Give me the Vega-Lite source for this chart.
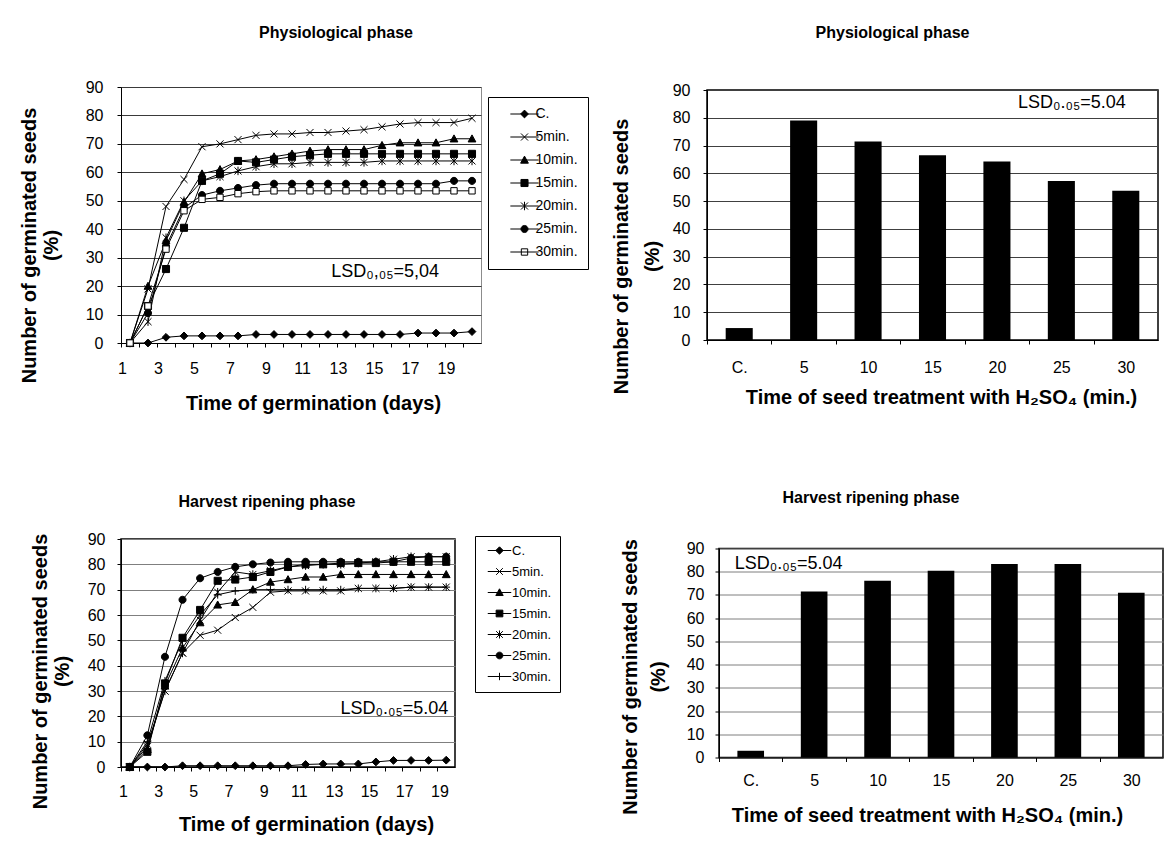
{
  "$schema": "https://vega.github.io/schema/vega-lite/v6.json",
  "background": "white",
  "padding": {"left": 18, "top": 24, "right": 0, "bottom": 0},
  "spacing": 75,
  "resolve": {"scale": {"shape": "independent", "fill": "independent"}, "legend": {"shape": "independent", "fill": "independent"}},
  "config": {
    "font": "Liberation Sans",
    "view": {"stroke": null},
    "axis": {"labelFont": "Liberation Sans", "titleFont": "Liberation Sans", "labelColor": "black", "titleColor": "black", "labelFontSize": 16, "titleFontSize": 20, "titleFontWeight": "bold", "domainColor": "black", "tickColor": "black", "tickSize": 4, "gridWidth": 1, "titleLineHeight": 22, "labelOverlap": false},
    "axisX": {"grid": false, "labelAngle": 0},
    "title": {"font": "Liberation Sans", "color": "black", "fontSize": 16, "fontWeight": "bold"},
    "legend": {"labelFont": "Liberation Sans", "labelColor": "black", "symbolStrokeColor": "black", "symbolStrokeWidth": 1}
  },
  "datasets": {
    "phys": [
      {"d":1,"s":"C.","v":0},{"d":2,"s":"C.","v":0},{"d":3,"s":"C.","v":2},{"d":4,"s":"C.","v":2.5},{"d":5,"s":"C.","v":2.5},{"d":6,"s":"C.","v":2.5},{"d":7,"s":"C.","v":2.5},{"d":8,"s":"C.","v":3},{"d":9,"s":"C.","v":3},{"d":10,"s":"C.","v":3},{"d":11,"s":"C.","v":3},{"d":12,"s":"C.","v":3},{"d":13,"s":"C.","v":3},{"d":14,"s":"C.","v":3},{"d":15,"s":"C.","v":3},{"d":16,"s":"C.","v":3},{"d":17,"s":"C.","v":3.5},{"d":18,"s":"C.","v":3.5},{"d":19,"s":"C.","v":3.5},{"d":20,"s":"C.","v":4},
      {"d":1,"s":"5min.","v":0},{"d":2,"s":"5min.","v":19},{"d":3,"s":"5min.","v":48},{"d":4,"s":"5min.","v":57.5},{"d":5,"s":"5min.","v":69},{"d":6,"s":"5min.","v":70},{"d":7,"s":"5min.","v":71.5},{"d":8,"s":"5min.","v":73},{"d":9,"s":"5min.","v":73.5},{"d":10,"s":"5min.","v":73.5},{"d":11,"s":"5min.","v":74},{"d":12,"s":"5min.","v":74},{"d":13,"s":"5min.","v":74.5},{"d":14,"s":"5min.","v":75},{"d":15,"s":"5min.","v":76},{"d":16,"s":"5min.","v":77},{"d":17,"s":"5min.","v":77.5},{"d":18,"s":"5min.","v":77.5},{"d":19,"s":"5min.","v":77.5},{"d":20,"s":"5min.","v":79},
      {"d":1,"s":"10min.","v":0},{"d":2,"s":"10min.","v":20},{"d":3,"s":"10min.","v":36},{"d":4,"s":"10min.","v":49.5},{"d":5,"s":"10min.","v":59.5},{"d":6,"s":"10min.","v":61},{"d":7,"s":"10min.","v":64},{"d":8,"s":"10min.","v":64.5},{"d":9,"s":"10min.","v":65.5},{"d":10,"s":"10min.","v":66.5},{"d":11,"s":"10min.","v":67.5},{"d":12,"s":"10min.","v":68},{"d":13,"s":"10min.","v":68},{"d":14,"s":"10min.","v":68},{"d":15,"s":"10min.","v":69.5},{"d":16,"s":"10min.","v":70.4},{"d":17,"s":"10min.","v":70.4},{"d":18,"s":"10min.","v":70.4},{"d":19,"s":"10min.","v":71.8},{"d":20,"s":"10min.","v":71.8},
      {"d":1,"s":"15min.","v":0},{"d":2,"s":"15min.","v":13},{"d":3,"s":"15min.","v":26},{"d":4,"s":"15min.","v":40.5},{"d":5,"s":"15min.","v":57},{"d":6,"s":"15min.","v":59.5},{"d":7,"s":"15min.","v":64},{"d":8,"s":"15min.","v":63.5},{"d":9,"s":"15min.","v":64.5},{"d":10,"s":"15min.","v":65.5},{"d":11,"s":"15min.","v":66},{"d":12,"s":"15min.","v":66.5},{"d":13,"s":"15min.","v":66.5},{"d":14,"s":"15min.","v":66.5},{"d":15,"s":"15min.","v":66.5},{"d":16,"s":"15min.","v":66.5},{"d":17,"s":"15min.","v":66.5},{"d":18,"s":"15min.","v":66.5},{"d":19,"s":"15min.","v":66.5},{"d":20,"s":"15min.","v":66.5},
      {"d":1,"s":"20min.","v":0},{"d":2,"s":"20min.","v":7.5},{"d":3,"s":"20min.","v":37},{"d":4,"s":"20min.","v":50},{"d":5,"s":"20min.","v":57},{"d":6,"s":"20min.","v":58.5},{"d":7,"s":"20min.","v":60.5},{"d":8,"s":"20min.","v":62},{"d":9,"s":"20min.","v":63},{"d":10,"s":"20min.","v":63},{"d":11,"s":"20min.","v":63.5},{"d":12,"s":"20min.","v":63.5},{"d":13,"s":"20min.","v":63.5},{"d":14,"s":"20min.","v":63.5},{"d":15,"s":"20min.","v":64},{"d":16,"s":"20min.","v":64},{"d":17,"s":"20min.","v":64},{"d":18,"s":"20min.","v":64},{"d":19,"s":"20min.","v":64},{"d":20,"s":"20min.","v":64},
      {"d":1,"s":"25min.","v":0},{"d":2,"s":"25min.","v":10.5},{"d":3,"s":"25min.","v":34},{"d":4,"s":"25min.","v":47.5},{"d":5,"s":"25min.","v":52},{"d":6,"s":"25min.","v":53.5},{"d":7,"s":"25min.","v":54.5},{"d":8,"s":"25min.","v":55.5},{"d":9,"s":"25min.","v":56},{"d":10,"s":"25min.","v":56},{"d":11,"s":"25min.","v":56},{"d":12,"s":"25min.","v":56},{"d":13,"s":"25min.","v":56},{"d":14,"s":"25min.","v":56},{"d":15,"s":"25min.","v":56},{"d":16,"s":"25min.","v":56},{"d":17,"s":"25min.","v":56},{"d":18,"s":"25min.","v":56},{"d":19,"s":"25min.","v":57},{"d":20,"s":"25min.","v":57},
      {"d":1,"s":"30min.","v":0},{"d":2,"s":"30min.","v":13},{"d":3,"s":"30min.","v":33},{"d":4,"s":"30min.","v":46.5},{"d":5,"s":"30min.","v":50.5},{"d":6,"s":"30min.","v":51.2},{"d":7,"s":"30min.","v":52.5},{"d":8,"s":"30min.","v":53.2},{"d":9,"s":"30min.","v":53.5},{"d":10,"s":"30min.","v":53.5},{"d":11,"s":"30min.","v":53.5},{"d":12,"s":"30min.","v":53.5},{"d":13,"s":"30min.","v":53.5},{"d":14,"s":"30min.","v":53.5},{"d":15,"s":"30min.","v":53.5},{"d":16,"s":"30min.","v":53.5},{"d":17,"s":"30min.","v":53.5},{"d":18,"s":"30min.","v":53.5},{"d":19,"s":"30min.","v":53.5},{"d":20,"s":"30min.","v":53.5}
    ],
    "harv": [
      {"d":1,"s":"C.","v":0},{"d":2,"s":"C.","v":0},{"d":3,"s":"C.","v":0},{"d":4,"s":"C.","v":0.5},{"d":5,"s":"C.","v":0.5},{"d":6,"s":"C.","v":0.5},{"d":7,"s":"C.","v":0.5},{"d":8,"s":"C.","v":0.5},{"d":9,"s":"C.","v":0.5},{"d":10,"s":"C.","v":0.5},{"d":11,"s":"C.","v":1},{"d":12,"s":"C.","v":1.2},{"d":13,"s":"C.","v":1.2},{"d":14,"s":"C.","v":1.2},{"d":15,"s":"C.","v":2},{"d":16,"s":"C.","v":2.6},{"d":17,"s":"C.","v":2.6},{"d":18,"s":"C.","v":2.6},{"d":19,"s":"C.","v":2.7},
      {"d":1,"s":"5min.","v":0},{"d":2,"s":"5min.","v":8},{"d":3,"s":"5min.","v":30},{"d":4,"s":"5min.","v":45},{"d":5,"s":"5min.","v":52},{"d":6,"s":"5min.","v":54},{"d":7,"s":"5min.","v":59},{"d":8,"s":"5min.","v":63},{"d":9,"s":"5min.","v":69},{"d":10,"s":"5min.","v":69.5},{"d":11,"s":"5min.","v":69.5},{"d":12,"s":"5min.","v":69.5},{"d":13,"s":"5min.","v":69.5},{"d":14,"s":"5min.","v":70.5},{"d":15,"s":"5min.","v":70.5},{"d":16,"s":"5min.","v":70.5},{"d":17,"s":"5min.","v":71},{"d":18,"s":"5min.","v":71},{"d":19,"s":"5min.","v":71},
      {"d":1,"s":"10min.","v":0},{"d":2,"s":"10min.","v":7},{"d":3,"s":"10min.","v":32},{"d":4,"s":"10min.","v":47},{"d":5,"s":"10min.","v":57},{"d":6,"s":"10min.","v":64},{"d":7,"s":"10min.","v":65},{"d":8,"s":"10min.","v":70},{"d":9,"s":"10min.","v":73},{"d":10,"s":"10min.","v":74},{"d":11,"s":"10min.","v":75},{"d":12,"s":"10min.","v":75},{"d":13,"s":"10min.","v":76},{"d":14,"s":"10min.","v":76},{"d":15,"s":"10min.","v":76},{"d":16,"s":"10min.","v":76},{"d":17,"s":"10min.","v":76},{"d":18,"s":"10min.","v":76},{"d":19,"s":"10min.","v":76},
      {"d":1,"s":"15min.","v":0},{"d":2,"s":"15min.","v":6},{"d":3,"s":"15min.","v":33},{"d":4,"s":"15min.","v":51},{"d":5,"s":"15min.","v":62},{"d":6,"s":"15min.","v":73.5},{"d":7,"s":"15min.","v":74},{"d":8,"s":"15min.","v":75},{"d":9,"s":"15min.","v":77},{"d":10,"s":"15min.","v":79},{"d":11,"s":"15min.","v":80},{"d":12,"s":"15min.","v":80},{"d":13,"s":"15min.","v":80.5},{"d":14,"s":"15min.","v":80.5},{"d":15,"s":"15min.","v":80.5},{"d":16,"s":"15min.","v":81},{"d":17,"s":"15min.","v":81},{"d":18,"s":"15min.","v":81},{"d":19,"s":"15min.","v":81},
      {"d":1,"s":"20min.","v":0},{"d":2,"s":"20min.","v":9},{"d":3,"s":"20min.","v":30},{"d":4,"s":"20min.","v":45},{"d":5,"s":"20min.","v":58},{"d":6,"s":"20min.","v":69},{"d":7,"s":"20min.","v":77},{"d":8,"s":"20min.","v":76},{"d":9,"s":"20min.","v":77.5},{"d":10,"s":"20min.","v":79},{"d":11,"s":"20min.","v":79.5},{"d":12,"s":"20min.","v":80},{"d":13,"s":"20min.","v":80},{"d":14,"s":"20min.","v":80.5},{"d":15,"s":"20min.","v":81},{"d":16,"s":"20min.","v":82},{"d":17,"s":"20min.","v":83},{"d":18,"s":"20min.","v":83},{"d":19,"s":"20min.","v":83},
      {"d":1,"s":"25min.","v":0},{"d":2,"s":"25min.","v":12.5},{"d":3,"s":"25min.","v":43.5},{"d":4,"s":"25min.","v":66},{"d":5,"s":"25min.","v":74.5},{"d":6,"s":"25min.","v":77},{"d":7,"s":"25min.","v":79},{"d":8,"s":"25min.","v":80},{"d":9,"s":"25min.","v":80.7},{"d":10,"s":"25min.","v":81},{"d":11,"s":"25min.","v":81},{"d":12,"s":"25min.","v":81},{"d":13,"s":"25min.","v":81},{"d":14,"s":"25min.","v":81},{"d":15,"s":"25min.","v":81},{"d":16,"s":"25min.","v":81},{"d":17,"s":"25min.","v":82.5},{"d":18,"s":"25min.","v":83},{"d":19,"s":"25min.","v":83},
      {"d":1,"s":"30min.","v":0},{"d":2,"s":"30min.","v":10},{"d":3,"s":"30min.","v":34},{"d":4,"s":"30min.","v":50},{"d":5,"s":"30min.","v":60},{"d":6,"s":"30min.","v":68},{"d":7,"s":"30min.","v":69.5},{"d":8,"s":"30min.","v":70},{"d":9,"s":"30min.","v":70},{"d":10,"s":"30min.","v":70},{"d":11,"s":"30min.","v":70},{"d":12,"s":"30min.","v":70},{"d":13,"s":"30min.","v":70},{"d":14,"s":"30min.","v":70.5},{"d":15,"s":"30min.","v":70.5},{"d":16,"s":"30min.","v":70.5},{"d":17,"s":"30min.","v":71},{"d":18,"s":"30min.","v":71},{"d":19,"s":"30min.","v":71}
    ],
    "physBar": [
      {"t":"C.","v":4.3},{"t":"5","v":79},{"t":"10","v":71.5},{"t":"15","v":66.5},{"t":"20","v":64.3},{"t":"25","v":57.2},{"t":"30","v":53.7}
    ],
    "harvBar": [
      {"t":"C.","v":2.9},{"t":"5","v":71.5},{"t":"10","v":76.1},{"t":"15","v":80.4},{"t":"20","v":83.3},{"t":"25","v":83.3},{"t":"30","v":70.9}
    ]
  },
  "vconcat": [
    {
      "bounds": "flush",
      "center": true,
      "spacing": 226,
      "resolve": {"scale": {"shape": "independent", "fill": "independent"}, "legend": {"shape": "independent", "fill": "independent"}},
      "hconcat": [
        {
          "width": 360,
          "height": 256,
          "title": {"text": "Physiological phase", "offset": 38, "dx": 35},
          "data": {"name": "phys"},
          "view": {"stroke": "#8c8c8c", "strokeWidth": 1},
          "layer": [
            {
              "mark": {"type": "line", "color": "black", "strokeWidth": 1},
              "encoding": {
                "x": {"field": "d", "type": "ordinal", "scale": {"type": "point", "padding": 0.5}, "title": "Time of  germination (days)",
                  "axis": {"labelExpr": "datum.value % 2 == 1 ? datum.label : ''", "tickOffset": -9, "labelOffset": 1, "labelPadding": 13, "titlePadding": 17, "titleX": 192}},
                "y": {"field": "v", "type": "quantitative", "scale": {"domain": [0, 90], "nice": false}, "title": ["Number of germinated seeds", "(%)"],
                  "axis": {"values": [0,10,20,30,40,50,60,70,80,90], "grid": true, "gridColor": "#3a3a3a", "labelPadding": 14, "titlePadding": 24, "titleY": 158}},
                "detail": {"field": "s"}
              }
            },
            {
              "mark": {"type": "point", "filled": true, "size": 50, "stroke": "black", "strokeWidth": 1, "opacity": 1},
              "encoding": {
                "x": {"field": "d", "type": "ordinal", "scale": {"type": "point", "padding": 0.5}, "title": "Time of  germination (days)",
                  "axis": {"labelExpr": "datum.value % 2 == 1 ? datum.label : ''", "tickOffset": -9, "labelOffset": 1, "labelPadding": 13, "titlePadding": 17, "titleX": 192}},
                "y": {"field": "v", "type": "quantitative", "scale": {"domain": [0, 90], "nice": false}, "title": ["Number of germinated seeds", "(%)"],
                  "axis": {"values": [0,10,20,30,40,50,60,70,80,90], "grid": true, "gridColor": "#3a3a3a", "labelPadding": 14, "titlePadding": 24, "titleY": 158}},
                "shape": {"field": "s", "type": "nominal",
                  "scale": {"domain": ["C.","5min.","10min.","15min.","20min.","25min.","30min.","-"],
                    "range": ["M0,-1.1L1.1,0L0,1.1L-1.1,0Z", "M-1,-1L1,1M-1,1L1,-1", "M0,-1.1L1.1,0.9L-1.1,0.9Z", "M-1,-1L1,-1L1,1L-1,1Z", "M-1,-1L1,1M-1,1L1,-1M0,-1.2L0,1.2", "M-1,0A1,1,0,1,1,1,0A1,1,0,1,1,-1,0Z", "M-0.9,-0.9L0.9,-0.9L0.9,0.9L-0.9,0.9Z", "M-1,0L1,0"]},
                  "legend": null},
                "fill": {"field": "s", "type": "nominal",
                  "scale": {"domain": ["C.","5min.","10min.","15min.","20min.","25min.","30min."], "range": ["black","black","black","black","black","black","white"]},
                  "legend": {"orient": "none", "legendX": 367, "legendY": 10, "title": null, "padding": 10, "strokeColor": "black", "fillColor": "white", "labelFontSize": 14, "rowPadding": 9, "symbolSize": 50, "symbolStrokeWidth": 1, "symbolStrokeColor": "black", "symbolOffset": 19.5, "labelOffset": 4,
                    "symbolType": {"expr": "datum.value === 'C.' ? 'M-4,0L4,0M0,-1.1L1.1,0L0,1.1L-1.1,0Z' : datum.value === '5min.' ? 'M-4,0L4,0M-1,-1L1,1M-1,1L1,-1' : datum.value === '10min.' ? 'M-4,0L4,0M0,-1.1L1.1,0.9L-1.1,0.9Z' : datum.value === '15min.' ? 'M-4,0L4,0M-1,-1L1,-1L1,1L-1,1Z' : datum.value === '20min.' ? 'M-4,0L4,0M-1,-1L1,1M-1,1L1,-1M0,-1.2L0,1.2' : datum.value === '25min.' ? 'M-4,0L4,0M-1,0A1,1,0,1,1,1,0A1,1,0,1,1,-1,0Z' : 'M-4,0L4,0M-0.9,-0.9L0.9,-0.9L0.9,0.9L-0.9,0.9Z'"}}}
              }
            },
            {
              "data": {"values": [{"label": "LSD₀,₀₅=5,04"}]},
              "mark": {"type": "text", "fontSize": 18, "align": "right", "baseline": "middle", "dx": -15, "color": "black"},
              "encoding": {
                "x": {"datum": 19, "type": "ordinal", "scale": {"type": "point", "padding": 0.5}, "title": "Time of  germination (days)",
                  "axis": {"labelExpr": "datum.value % 2 == 1 ? datum.label : ''", "tickOffset": -9, "labelOffset": 1, "labelPadding": 13, "titlePadding": 17, "titleX": 192}},
                "y": {"datum": 25, "type": "quantitative", "scale": {"domain": [0, 90], "nice": false}, "title": ["Number of germinated seeds", "(%)"],
                  "axis": {"values": [0,10,20,30,40,50,60,70,80,90], "grid": true, "gridColor": "#3a3a3a", "labelPadding": 14, "titlePadding": 24, "titleY": 158}},
                "text": {"field": "label"}
              }
            }
          ]
        },
        {
          "width": 451,
          "height": 250,
          "title": {"text": "Physiological phase", "offset": 41, "dx": -40},
          "data": {"name": "physBar"},
          "view": {"stroke": "black", "strokeWidth": 1.5},
          "layer": [
            {
              "mark": {"type": "bar", "color": "black"},
              "encoding": {
                "x": {"field": "t", "type": "ordinal", "sort": null, "scale": {"paddingInner": 0.58, "paddingOuter": 0.29}, "title": "Time of seed treatment with H₂SO₄ (min.)",
                  "axis": {"tickOffset": -32.2, "labelOffset": 32.2, "labelPadding": 15, "titlePadding": 12, "titleX": 234}},
                "y": {"field": "v", "type": "quantitative", "scale": {"domain": [0, 90], "nice": false}, "title": ["Number of  germinated  seeds", "(%)"],
                  "axis": {"values": [0,10,20,30,40,50,60,70,80,90], "grid": true, "gridColor": "#404040", "labelPadding": 13, "titlePadding": 10, "titleY": 166, "titleLineHeight": 31}}
              }
            },
            {
              "data": {"values": [{"label": "LSD₀.₀₅=5.04"}]},
              "mark": {"type": "text", "fontSize": 18, "align": "right", "baseline": "middle", "dx": 0, "color": "black"},
              "encoding": {
                "x": {"datum": "30", "type": "ordinal", "sort": null, "scale": {"paddingInner": 0.58, "paddingOuter": 0.29}, "title": "Time of seed treatment with H₂SO₄ (min.)",
                  "axis": {"tickOffset": -32.2, "labelOffset": 32.2, "labelPadding": 15, "titlePadding": 12, "titleX": 234}},
                "y": {"datum": 85.5, "type": "quantitative", "scale": {"domain": [0, 90], "nice": false}, "title": ["Number of  germinated  seeds", "(%)"],
                  "axis": {"values": [0,10,20,30,40,50,60,70,80,90], "grid": true, "gridColor": "#404040", "labelPadding": 13, "titlePadding": 10, "titleY": 166, "titleLineHeight": 31}},
                "text": {"field": "label"}
              }
            }
          ]
        }
      ]
    },
    {
      "bounds": "flush",
      "center": true,
      "spacing": 264,
      "resolve": {"scale": {"shape": "independent", "fill": "independent"}, "legend": {"shape": "independent", "fill": "independent"}},
      "hconcat": [
        {
          "width": 334,
          "height": 228,
          "title": {"text": "Harvest ripening phase", "offset": 21, "dx": -21},
          "data": {"name": "harv"},
          "view": {"stroke": "black", "strokeWidth": 1.5},
          "layer": [
            {
              "mark": {"type": "line", "color": "black", "strokeWidth": 1},
              "encoding": {
                "x": {"field": "d", "type": "ordinal", "scale": {"type": "point", "padding": 0.5}, "title": "Time of  germination (days)",
                  "axis": {"labelExpr": "datum.value % 2 == 1 ? datum.label : ''", "tickOffset": -8.8, "labelOffset": 2, "labelPadding": 12, "titlePadding": 15, "titleX": 185}},
                "y": {"field": "v", "type": "quantitative", "scale": {"domain": [0, 90], "nice": false}, "title": ["Number of germinated seeds", "(%)"],
                  "axis": {"values": [0,10,20,30,40,50,60,70,80,90], "grid": true, "gridColor": "#7f7f7f", "labelPadding": 12, "titlePadding": 15, "titleY": 132}},
                "detail": {"field": "s"}
              }
            },
            {
              "mark": {"type": "point", "filled": true, "size": 50, "stroke": "black", "strokeWidth": 1, "opacity": 1},
              "encoding": {
                "x": {"field": "d", "type": "ordinal", "scale": {"type": "point", "padding": 0.5}, "title": "Time of  germination (days)",
                  "axis": {"labelExpr": "datum.value % 2 == 1 ? datum.label : ''", "tickOffset": -8.8, "labelOffset": 2, "labelPadding": 12, "titlePadding": 15, "titleX": 185}},
                "y": {"field": "v", "type": "quantitative", "scale": {"domain": [0, 90], "nice": false}, "title": ["Number of germinated seeds", "(%)"],
                  "axis": {"values": [0,10,20,30,40,50,60,70,80,90], "grid": true, "gridColor": "#7f7f7f", "labelPadding": 12, "titlePadding": 15, "titleY": 132}},
                "shape": {"field": "s", "type": "nominal",
                  "scale": {"domain": ["C.","5min.","10min.","15min.","20min.","25min.","30min.","-"],
                    "range": ["M0,-1.1L1.1,0L0,1.1L-1.1,0Z", "M-1,-1L1,1M-1,1L1,-1", "M0,-1.1L1.1,0.9L-1.1,0.9Z", "M-1,-1L1,-1L1,1L-1,1Z", "M-1,-1L1,1M-1,1L1,-1M0,-1.2L0,1.2", "M-1,0A1,1,0,1,1,1,0A1,1,0,1,1,-1,0Z", "M-1.1,0L1.1,0M0,-1.1L0,1.1", "M-1,0L1,0"]},
                  "legend": null},
                "fill": {"field": "s", "type": "nominal",
                  "scale": {"domain": ["C.","5min.","10min.","15min.","20min.","25min.","30min."], "range": ["black","black","black","black","black","black","black"]},
                  "legend": {"orient": "none", "legendX": 354, "legendY": -3, "title": null, "padding": 8, "strokeColor": "black", "fillColor": "white", "labelFontSize": 13, "rowPadding": 7, "symbolSize": 45, "symbolStrokeWidth": 1, "symbolStrokeColor": "black", "symbolOffset": 10, "labelOffset": 6,
                    "symbolType": {"expr": "datum.value === 'C.' ? 'M-3.5,0L3.5,0M0,-1.1L1.1,0L0,1.1L-1.1,0Z' : datum.value === '5min.' ? 'M-3.5,0L3.5,0M-1,-1L1,1M-1,1L1,-1' : datum.value === '10min.' ? 'M-3.5,0L3.5,0M0,-1.1L1.1,0.9L-1.1,0.9Z' : datum.value === '15min.' ? 'M-3.5,0L3.5,0M-1,-1L1,-1L1,1L-1,1Z' : datum.value === '20min.' ? 'M-3.5,0L3.5,0M-1,-1L1,1M-1,1L1,-1M0,-1.2L0,1.2' : datum.value === '25min.' ? 'M-3.5,0L3.5,0M-1,0A1,1,0,1,1,1,0A1,1,0,1,1,-1,0Z' : 'M-3.5,0L3.5,0M0,-1.1L0,1.1'"}}}
              }
            },
            {
              "data": {"values": [{"label": "LSD₀.₀₅=5.04"}]},
              "mark": {"type": "text", "fontSize": 18, "align": "right", "baseline": "middle", "dx": 2, "color": "black"},
              "encoding": {
                "x": {"datum": 19, "type": "ordinal", "scale": {"type": "point", "padding": 0.5}, "title": "Time of  germination (days)",
                  "axis": {"labelExpr": "datum.value % 2 == 1 ? datum.label : ''", "tickOffset": -8.8, "labelOffset": 2, "labelPadding": 12, "titlePadding": 15, "titleX": 185}},
                "y": {"datum": 23, "type": "quantitative", "scale": {"domain": [0, 90], "nice": false}, "title": ["Number of germinated seeds", "(%)"],
                  "axis": {"values": [0,10,20,30,40,50,60,70,80,90], "grid": true, "gridColor": "#7f7f7f", "labelPadding": 12, "titlePadding": 15, "titleY": 132}},
                "text": {"field": "label"}
              }
            }
          ]
        },
        {
          "width": 444,
          "height": 209,
          "title": {"text": "Harvest ripening  phase", "offset": 27, "dx": -70},
          "data": {"name": "harvBar"},
          "view": {"stroke": "black", "strokeWidth": 1.5},
          "layer": [
            {
              "mark": {"type": "bar", "color": "black"},
              "encoding": {
                "x": {"field": "t", "type": "ordinal", "sort": null, "scale": {"paddingInner": 0.58, "paddingOuter": 0.29}, "title": "Time of  seed treatment with  H₂SO₄ (min.)",
                  "axis": {"tickOffset": -31.7, "labelOffset": 31.7, "labelPadding": 11, "titlePadding": 17, "titleX": 208}},
                "y": {"field": "v", "type": "quantitative", "scale": {"domain": [0, 90], "nice": false}, "title": ["Number of  germinated  seeds", "(%)"],
                  "axis": {"values": [0,10,20,30,40,50,60,70,80,90], "grid": true, "gridColor": "#7f7f7f", "labelPadding": 11, "titlePadding": 18, "titleY": 128, "titleLineHeight": 28}}
              }
            },
            {
              "data": {"values": [{"label": "LSD₀.₀₅=5.04"}]},
              "mark": {"type": "text", "fontSize": 18, "align": "left", "baseline": "middle", "dx": -16, "color": "black"},
              "encoding": {
                "x": {"datum": "C.", "type": "ordinal", "sort": null, "scale": {"paddingInner": 0.58, "paddingOuter": 0.29}, "title": "Time of  seed treatment with  H₂SO₄ (min.)",
                  "axis": {"tickOffset": -31.7, "labelOffset": 31.7, "labelPadding": 11, "titlePadding": 17, "titleX": 208}},
                "y": {"datum": 83.5, "type": "quantitative", "scale": {"domain": [0, 90], "nice": false}, "title": ["Number of  germinated  seeds", "(%)"],
                  "axis": {"values": [0,10,20,30,40,50,60,70,80,90], "grid": true, "gridColor": "#7f7f7f", "labelPadding": 11, "titlePadding": 18, "titleY": 128, "titleLineHeight": 28}},
                "text": {"field": "label"}
              }
            }
          ]
        }
      ]
    }
  ]
}
